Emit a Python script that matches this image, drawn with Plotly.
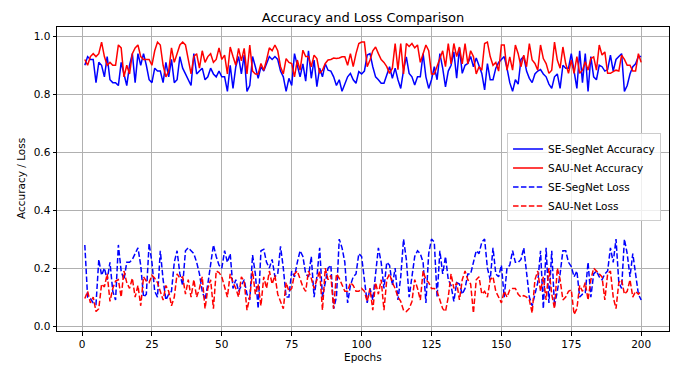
import plotly.graph_objects as go

epochs = list(range(1, 201))

se_segnet_acc = [
    0.90, 0.93, 0.92, 0.92, 0.84, 0.91, 0.90, 0.86, 0.93, 0.85,
    0.84, 0.84, 0.83, 0.91, 0.87, 0.83, 0.90, 0.94, 0.84, 0.94,
    0.90, 0.94, 0.90, 0.85, 0.84, 0.89, 0.88, 0.88, 0.84, 0.91,
    0.86, 0.92, 0.84, 0.85, 0.93, 0.89, 0.87, 0.85, 0.83, 0.94,
    0.87, 0.88, 0.89, 0.85, 0.86, 0.89, 0.87, 0.86, 0.88, 0.86,
    0.86, 0.81, 0.90, 0.82, 0.895, 0.93, 0.87, 0.935, 0.81, 0.83,
    0.93, 0.895, 0.855, 0.895, 0.88, 0.905, 0.93, 0.92, 0.93, 0.92,
    0.88, 0.86, 0.81, 0.855, 0.83, 0.94, 0.895, 0.86, 0.905, 0.845,
    0.95, 0.855, 0.918, 0.826, 0.89, 0.86, 0.905, 0.883, 0.88, 0.86,
    0.83, 0.85, 0.81, 0.838, 0.86, 0.872, 0.85, 0.838, 0.878, 0.87,
    0.88, 0.935, 0.94, 0.895, 0.86, 0.85, 0.838, 0.838, 0.87, 0.895,
    0.855, 0.89, 0.85, 0.82, 0.883, 0.929, 0.872, 0.86, 0.832, 0.86,
    0.86, 0.94, 0.86, 0.82, 0.85, 0.895, 0.85, 0.94, 0.89, 0.825,
    0.88, 0.90, 0.946, 0.855, 0.96, 0.872, 0.90, 0.906, 0.93, 0.895,
    0.925, 0.895, 0.872, 0.815, 0.906, 0.85, 0.85, 0.89, 0.91, 0.92,
    0.93, 0.89, 0.84, 0.81, 0.85, 0.835, 0.92, 0.93, 0.88, 0.855,
    0.84, 0.87, 0.88, 0.885, 0.87, 0.86, 0.835, 0.82, 0.86, 0.87,
    0.82, 0.90, 0.89, 0.89, 0.94, 0.88, 0.82, 0.95, 0.84, 0.94,
    0.81, 0.93, 0.86, 0.85, 0.90, 0.895, 0.88, 0.885, 0.935, 0.88,
    0.92, 0.93, 0.94, 0.81, 0.83, 0.87, 0.895, 0.905, 0.93, 0.93,
]

sau_net_acc = [
    0.92, 0.90, 0.93, 0.94, 0.93, 0.94, 0.98, 0.93, 0.90, 0.91,
    0.90, 0.90, 0.97, 0.96, 0.86, 0.90, 0.87, 0.94, 0.96, 0.97,
    0.93, 0.92, 0.92, 0.92, 0.90, 0.95, 0.98, 0.97, 0.90, 0.86,
    0.88, 0.96, 0.91, 0.94, 0.97, 0.98, 0.97, 0.92, 0.87, 0.93,
    0.94, 0.89, 0.95, 0.91, 0.93, 0.94, 0.91, 0.92, 0.96, 0.92,
    0.935, 0.87, 0.963, 0.93, 0.90, 0.958, 0.915, 0.958, 0.87, 0.97,
    0.88, 0.87, 0.87, 0.906, 0.883, 0.918, 0.96, 0.95, 0.97, 0.95,
    0.895, 0.87, 0.923, 0.91, 0.906, 0.86, 0.918, 0.883, 0.952, 0.93,
    0.93, 0.895, 0.935, 0.923, 0.872, 0.883, 0.906, 0.918, 0.92, 0.925,
    0.923, 0.925, 0.929, 0.929, 0.90, 0.94, 0.895, 0.94, 0.975, 0.98,
    0.98, 0.895, 0.918, 0.95, 0.963, 0.94, 0.92, 0.91, 0.895, 0.872,
    0.89, 0.975, 0.885, 0.975, 0.87, 0.975, 0.965, 0.975, 0.96, 0.97,
    0.91, 0.94, 0.97, 0.95, 0.87, 0.87, 0.895, 0.92, 0.95, 0.895,
    0.975, 0.905, 0.975, 0.93, 0.963, 0.905, 0.975, 0.905, 0.95, 0.93,
    0.87, 0.895, 0.883, 0.975, 0.98, 0.93, 0.90, 0.91, 0.88, 0.97,
    0.97, 0.883, 0.929, 0.883, 0.97, 0.94, 0.895, 0.935, 0.895, 0.975,
    0.918, 0.906, 0.883, 0.97, 0.923, 0.906, 0.872, 0.883, 0.98, 0.918,
    0.89, 0.963, 0.906, 0.872, 0.918, 0.872, 0.93, 0.872, 0.883, 0.912,
    0.883, 0.923, 0.929, 0.883, 0.97, 0.935, 0.946, 0.872, 0.872, 0.878,
    0.883, 0.88, 0.935, 0.92, 0.90, 0.90, 0.88, 0.88, 0.94, 0.91,
]

se_segnet_loss = [
    0.28, 0.10, 0.095, 0.08, 0.075, 0.23, 0.175, 0.20, 0.16, 0.22,
    0.12, 0.09, 0.28, 0.19, 0.16, 0.22, 0.22, 0.23, 0.25, 0.27,
    0.21, 0.10, 0.11, 0.285, 0.22, 0.12, 0.10, 0.26, 0.16, 0.09,
    0.11, 0.12, 0.22, 0.26, 0.18, 0.14, 0.26, 0.27, 0.26, 0.25,
    0.22, 0.18, 0.12, 0.09, 0.145, 0.22, 0.28, 0.24, 0.21, 0.20,
    0.26, 0.22, 0.25, 0.13, 0.16, 0.12, 0.14, 0.16, 0.11, 0.09,
    0.245, 0.18, 0.06, 0.26, 0.265, 0.22, 0.20, 0.23, 0.17, 0.18,
    0.275, 0.20, 0.10, 0.10, 0.19, 0.17, 0.22, 0.26, 0.24, 0.18,
    0.17, 0.24, 0.10, 0.17, 0.27, 0.10, 0.15, 0.20, 0.21, 0.06,
    0.10, 0.30, 0.27, 0.22, 0.08, 0.14, 0.17, 0.18, 0.25, 0.24,
    0.16, 0.08, 0.13, 0.09, 0.18, 0.27, 0.22, 0.13, 0.22, 0.21,
    0.14, 0.20, 0.09, 0.17, 0.30, 0.23, 0.10, 0.18, 0.24, 0.26,
    0.25, 0.22, 0.08, 0.25, 0.30, 0.29, 0.10, 0.26, 0.18, 0.24,
    0.16, 0.14, 0.085, 0.15, 0.145, 0.11, 0.13, 0.18, 0.18, 0.22,
    0.26, 0.25, 0.29, 0.30, 0.20, 0.16, 0.27, 0.18, 0.17, 0.21,
    0.10, 0.20, 0.21, 0.26, 0.22, 0.22, 0.23, 0.27, 0.19, 0.10,
    0.07, 0.11, 0.15, 0.26, 0.06, 0.27, 0.08, 0.26, 0.07, 0.12,
    0.18, 0.26, 0.26, 0.22, 0.205, 0.17, 0.19, 0.10, 0.11, 0.115,
    0.22, 0.10, 0.18, 0.19, 0.17, 0.16, 0.18, 0.19, 0.27, 0.22,
    0.30, 0.15, 0.13, 0.30, 0.25, 0.17, 0.25, 0.18, 0.11, 0.09,
]

sau_net_loss = [
    0.095, 0.12, 0.08, 0.10, 0.05, 0.06, 0.145, 0.135, 0.18, 0.085,
    0.13, 0.155, 0.16, 0.10, 0.19, 0.15, 0.13, 0.165, 0.10, 0.14,
    0.07, 0.17, 0.155, 0.15, 0.175, 0.165, 0.15, 0.12, 0.09, 0.14,
    0.12, 0.07, 0.10, 0.18, 0.165, 0.17, 0.11, 0.16, 0.10, 0.16,
    0.10, 0.13, 0.17, 0.06, 0.13, 0.16, 0.06, 0.19, 0.185, 0.17,
    0.13, 0.10, 0.18, 0.15, 0.13, 0.10, 0.17, 0.155, 0.055, 0.10,
    0.19, 0.11, 0.145, 0.07, 0.17, 0.13, 0.19, 0.145, 0.175, 0.11,
    0.085, 0.06, 0.15, 0.12, 0.13, 0.18, 0.19, 0.16, 0.135, 0.12,
    0.19, 0.165, 0.13, 0.16, 0.19, 0.055, 0.20, 0.16, 0.175, 0.06,
    0.18, 0.165, 0.14, 0.12, 0.12, 0.15, 0.14, 0.12, 0.12, 0.13,
    0.12, 0.085, 0.13, 0.055, 0.15, 0.11, 0.16, 0.055, 0.16, 0.18,
    0.15, 0.13, 0.10, 0.085, 0.055, 0.05, 0.06, 0.085, 0.16, 0.13,
    0.09, 0.19, 0.16, 0.15, 0.13, 0.13, 0.12, 0.09, 0.06, 0.05,
    0.10, 0.18, 0.13, 0.15, 0.09, 0.16, 0.19, 0.16, 0.145, 0.045,
    0.16, 0.17, 0.11, 0.12, 0.10, 0.16, 0.17, 0.12, 0.10, 0.08,
    0.12, 0.10, 0.125, 0.13, 0.13, 0.11, 0.10, 0.105, 0.10, 0.09,
    0.045, 0.16, 0.19, 0.12, 0.17, 0.09, 0.20, 0.11, 0.06, 0.20,
    0.16, 0.09, 0.10, 0.12, 0.125, 0.04, 0.06, 0.14, 0.12, 0.15,
    0.09, 0.16, 0.20, 0.19, 0.18, 0.17, 0.09, 0.18, 0.19, 0.10,
    0.06, 0.15, 0.16, 0.11, 0.12, 0.16, 0.10, 0.12, 0.11, 0.12,
]

x_ticks = [0, 25, 50, 75, 100, 125, 150, 175, 200]
y_ticks = [0.0, 0.2, 0.4, 0.6, 0.8, 1.0]

FONT = "DejaVu Sans"
dash = "5.5px,2.4px"

fig = go.Figure()
fig.add_trace(go.Scatter(x=epochs, y=se_segnet_acc, mode="lines", name="SE-SegNet Accuracy",
                         line=dict(color="#0000ff", width=1.5)))
fig.add_trace(go.Scatter(x=epochs, y=sau_net_acc, mode="lines", name="SAU-Net Accuracy",
                         line=dict(color="#ff0000", width=1.5)))
fig.add_trace(go.Scatter(x=epochs, y=se_segnet_loss, mode="lines", name="SE-SegNet Loss",
                         line=dict(color="#0000ff", width=1.5, dash=dash)))
fig.add_trace(go.Scatter(x=epochs, y=sau_net_loss, mode="lines", name="SAU-Net Loss",
                         line=dict(color="#ff0000", width=1.5, dash=dash)))

axis_common = dict(
    showline=True, mirror=True, linecolor="black", linewidth=1,
    ticks="outside", ticklen=3.5, tickwidth=0.8, tickcolor="black",
    showgrid=True, gridcolor="#b0b0b0", gridwidth=0.8,
    zeroline=False, tickfont=dict(family=FONT, size=10.5, color="black"),
)

fig.update_layout(
    width=678, height=366,
    margin=dict(l=57, r=9, t=27, b=35),
    paper_bgcolor="white", plot_bgcolor="white",
    font=dict(family=FONT, size=10.5, color="black"),
    title=dict(text="Accuracy and Loss Comparison", x=0.5, xref="paper", xanchor="center",
               y=1 - 17 / 366, yref="container", yanchor="middle",
               font=dict(family=FONT, size=13, color="black")),
    xaxis=dict(range=[-8.95, 209.95], tickvals=x_ticks, **axis_common),
    yaxis=dict(range=[-0.017, 1.032], tickvals=y_ticks, tickformat=".1f", **axis_common),
    legend=dict(x=0.987, y=0.505, xanchor="right", yanchor="middle",
                bgcolor="rgba(255,255,255,0.8)", bordercolor="#cccccc", borderwidth=1,
                font=dict(family=FONT, size=10.5, color="black"), tracegroupgap=0,
                itemwidth=30),
    showlegend=True,
    annotations=[
        dict(text="Epochs", x=0.5, y=0, xref="paper", yref="paper", xanchor="center",
             yanchor="middle", yshift=-26, showarrow=False,
             font=dict(family=FONT, size=10.5, color="black")),
        dict(text="Accuracy / Loss", x=0, y=0.5, xref="paper", yref="paper", xanchor="center",
             yanchor="middle", xshift=-36, textangle=-90, showarrow=False,
             font=dict(family=FONT, size=10.5, color="black")),
    ],
)

fig.write_html(
    "out.html",
    config={"displayModeBar": False},
    post_script="document.body.style.margin='0';document.body.style.overflow='hidden';",
)
